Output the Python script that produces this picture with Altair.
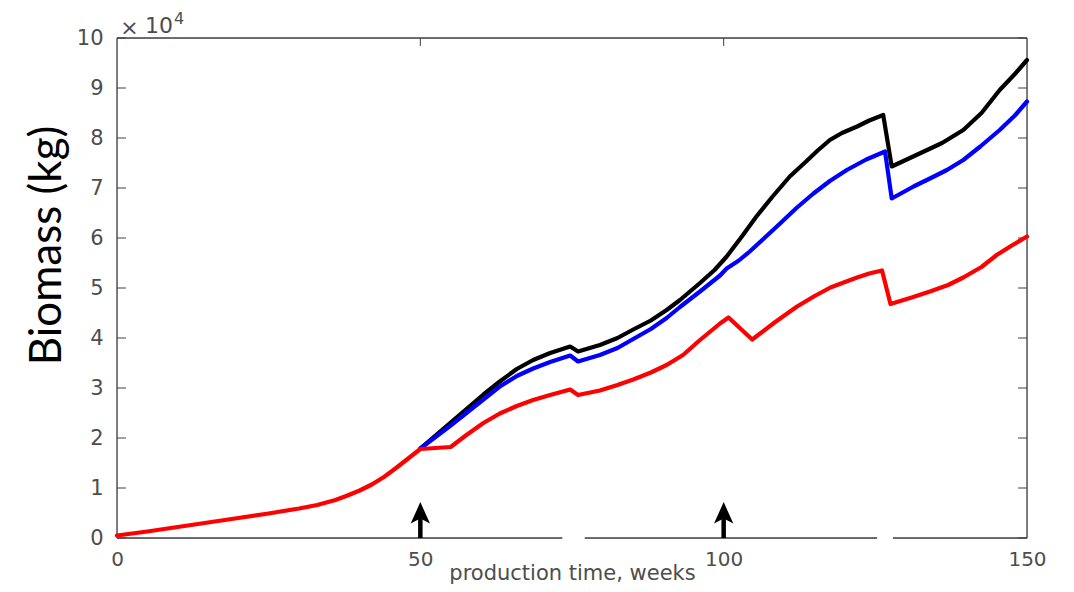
import altair as alt
import pandas as pd

# ---------------- data (biomass in units of 1e4 kg) ----------------
weeks_red = [0, 5, 10, 15, 20, 25, 30, 33, 36, 38, 40, 42, 44, 46, 48, 50,
             55, 57.6, 60.4, 63.1, 65.9, 68.6, 71.4, 74.7, 76.0, 79.6, 82.5,
             85.1, 88, 90.6, 93.3, 96.1, 99.4, 100.8, 104.7, 108.5, 112.1, 115,
             117.6, 120, 122, 124, 126.1, 127.5, 131, 134, 137, 139.5, 142.5,
             145, 147.5, 150]
biomass_red = [0.05, 0.13, 0.22, 0.31, 0.40, 0.49, 0.59, 0.66, 0.76, 0.85, 0.95,
               1.07, 1.22, 1.40, 1.59, 1.78,
               1.82, 2.06, 2.30, 2.49, 2.64, 2.76, 2.86, 2.97, 2.86, 2.95, 3.06,
               3.17, 3.31, 3.46, 3.66, 3.96, 4.29, 4.41, 3.97, 4.32, 4.63, 4.84,
               5.01, 5.12, 5.21, 5.29, 5.35, 4.68, 4.81, 4.93, 5.06, 5.21, 5.42,
               5.66, 5.85, 6.03]

weeks_blue = [50, 52.5, 55, 57.6, 60.4, 63.1, 65.9, 68.6, 71.4, 74.7, 76.0,
              79.6, 82.5, 85.1, 88, 90.6, 92.8, 96.1, 99.4, 100.5, 102.5, 104.3,
              106.8, 109.3, 112, 114.8, 117.5, 120.3, 123.5, 126.6, 127.7,
              131.3, 134, 136.8, 139.5, 142.3, 145.5, 148, 150]
biomass_blue = [1.79, 2.02, 2.25, 2.50, 2.77, 3.03, 3.24, 3.39, 3.52, 3.65, 3.53,
                3.66, 3.80, 3.98, 4.18, 4.40, 4.62, 4.93, 5.25, 5.39, 5.55, 5.73,
                6.01, 6.29, 6.60, 6.89, 7.14, 7.36, 7.57, 7.73, 6.79,
                7.03, 7.19, 7.36, 7.56, 7.83, 8.16, 8.45, 8.73]

weeks_black = [50, 52.5, 55, 57.6, 60.4, 63.1, 65.9, 68.6, 71.4, 74.7, 76.0,
               79.6, 82.5, 85.1, 88, 90.6, 92.8, 96.1, 98.5, 100.5, 103, 105.4,
               108, 110.9, 113.5, 115.5, 117.5, 119.5, 122, 124, 126.3, 127.7,
               132.3, 136, 139.5, 142.5, 145.5, 148, 150]
biomass_black = [1.79, 2.05, 2.31, 2.58, 2.87, 3.13, 3.38, 3.56, 3.70, 3.83, 3.73,
                 3.86, 4.00, 4.17, 4.35, 4.56, 4.76, 5.10, 5.36, 5.63, 6.03, 6.43,
                 6.82, 7.23, 7.52, 7.75, 7.96, 8.10, 8.23, 8.35, 8.46, 7.43,
                 7.69, 7.90, 8.16, 8.50, 8.96, 9.28, 9.56]

arrow_weeks = [50, 100]
arrow_base = [0, 0]
arrow_tip = [0.45, 0.45]

x_ticks = [0, 50, 100, 150]
y_ticks = list(range(0, 11))
top_ticks = [50, 100]

axis_gap_start = [73.4, 125.3]
axis_gap_end = [77.1, 127.9]

# ---------------- styling ----------------
W, H = 910, 500
GREY = "#404040"
LABEL = "#4d4d4d"

xs = alt.Scale(domain=[0, 150], nice=False, zero=False)
ys = alt.Scale(domain=[0, 10], nice=False, zero=False)

xaxis = alt.Axis(values=x_ticks, domain=False, ticks=False, tickSize=0, grid=False,
                 labelFont="DejaVu Sans", labelFontSize=20, labelColor=LABEL,
                 labelPadding=11, labelFlush=False,
                 title="production time, weeks", titleFont="DejaVu Sans",
                 titleFontSize=21, titleFontWeight="normal", titleColor=LABEL,
                 titleY=41, titleBaseline="alphabetic")
yaxis = alt.Axis(values=y_ticks, domain=False, ticks=False, tickSize=0, grid=False,
                 labelFont="DejaVu Sans", labelFontSize=21, labelColor=LABEL,
                 labelPadding=14, labelFlush=False,
                 title="Biomass (kg)", titleFont="Lato", titleFontSize=44,
                 titleFontWeight="normal", titleColor="black", titleAngle=270,
                 titleX=-70, titleY=207, titleAlign="center", titleBaseline="middle")


def X(field="week"):
    return alt.X(f"{field}:Q", scale=xs, axis=xaxis)


def Y(field="biomass"):
    return alt.Y(f"{field}:Q", scale=ys, axis=yaxis)


one = pd.DataFrame({"a": [0]})

# frame
frame = alt.layer(
    alt.Chart(one).mark_rule(color=GREY, strokeWidth=1.3).encode(
        x=alt.value(0), x2=alt.value(W), y=alt.value(0)),
    alt.Chart(one).mark_rule(color=GREY, strokeWidth=1.3).encode(
        x=alt.value(0), x2=alt.value(W), y=alt.value(H)),
    alt.Chart(one).mark_rule(color=GREY, strokeWidth=1.3).encode(
        x=alt.value(0), y=alt.value(0), y2=alt.value(H)),
    alt.Chart(one).mark_rule(color=GREY, strokeWidth=1.3).encode(
        x=alt.value(W), y=alt.value(0), y2=alt.value(H)),
)

ydf = pd.DataFrame({"biomass": y_ticks})
tdf = pd.DataFrame({"week": top_ticks})
ticks = alt.layer(
    alt.Chart(ydf).mark_rule(color=GREY, strokeWidth=1).encode(
        y=Y(), x=alt.value(0), x2=alt.value(9)),
    alt.Chart(ydf).mark_rule(color=GREY, strokeWidth=1).encode(
        y=Y(), x=alt.value(W - 9), x2=alt.value(W)),
    alt.Chart(tdf).mark_rule(color=GREY, strokeWidth=1).encode(
        x=X(), y=alt.value(0), y2=alt.value(8)),
    alt.Chart(tdf).mark_rule(color=GREY, strokeWidth=1).encode(
        x=X(), y=alt.value(H - 8), y2=alt.value(H)),
)


def series(weeks, vals, color):
    df = pd.DataFrame({"week": weeks, "biomass": vals})
    return alt.Chart(df).mark_line(color=color, strokeWidth=4.2,
                                   strokeJoin="round", strokeCap="round").encode(
        x=X(), y=Y())


lines = alt.layer(
    series(weeks_black, biomass_black, "#000000"),
    series(weeks_blue, biomass_blue, "#0000ff"),
    series(weeks_red, biomass_red, "#ff0000"),
)

adf = pd.DataFrame({"week": arrow_weeks, "base": arrow_base, "tip": arrow_tip})
arrows = alt.layer(
    alt.Chart(adf).mark_rule(color="black", strokeWidth=4.5).encode(
        x=X(), y=alt.Y("base:Q", scale=ys, axis=yaxis), y2="tip:Q"),
    alt.Chart(adf).mark_point(
        shape="M0,-1 L0.72,0.6 L0,0.22 L-0.72,0.6 Z",
        filled=True, color="black", opacity=1, size=720, strokeWidth=0).encode(
        x=X(), y=alt.Y("tip:Q", scale=ys, axis=yaxis)),
)

gdf = pd.DataFrame({"g0": axis_gap_start, "g1": axis_gap_end})
gaps = alt.Chart(gdf).mark_rule(color="white", strokeWidth=4).encode(
    x=alt.X("g0:Q", scale=xs, axis=xaxis), x2="g1:Q", y=alt.value(H))

exp_text = alt.layer(
    alt.Chart(one).mark_text(text="×", font="DejaVu Sans", fontSize=22,
                             color=LABEL, align="center", baseline="middle").encode(
        x=alt.value(12.5), y=alt.value(-10)),
    alt.Chart(one).mark_text(text="10", font="DejaVu Sans", fontSize=22,
                             color=LABEL, align="left", baseline="alphabetic").encode(
        x=alt.value(28), y=alt.value(-5)),
    alt.Chart(one).mark_text(text="4", font="DejaVu Sans", fontSize=16,
                             color=LABEL, align="left", baseline="alphabetic").encode(
        x=alt.value(57), y=alt.value(-14)),
)

chart = alt.layer(frame, ticks, lines, arrows, gaps, exp_text).properties(
    width=W, height=H,
    autosize=alt.AutoSizeParams(type="none"),
    padding={"left": 109, "top": 30, "right": 30, "bottom": 46},
).configure_view(stroke=None).configure(background="white")

chart.save("out.html", embed_options={"renderer": "svg", "actions": False})
